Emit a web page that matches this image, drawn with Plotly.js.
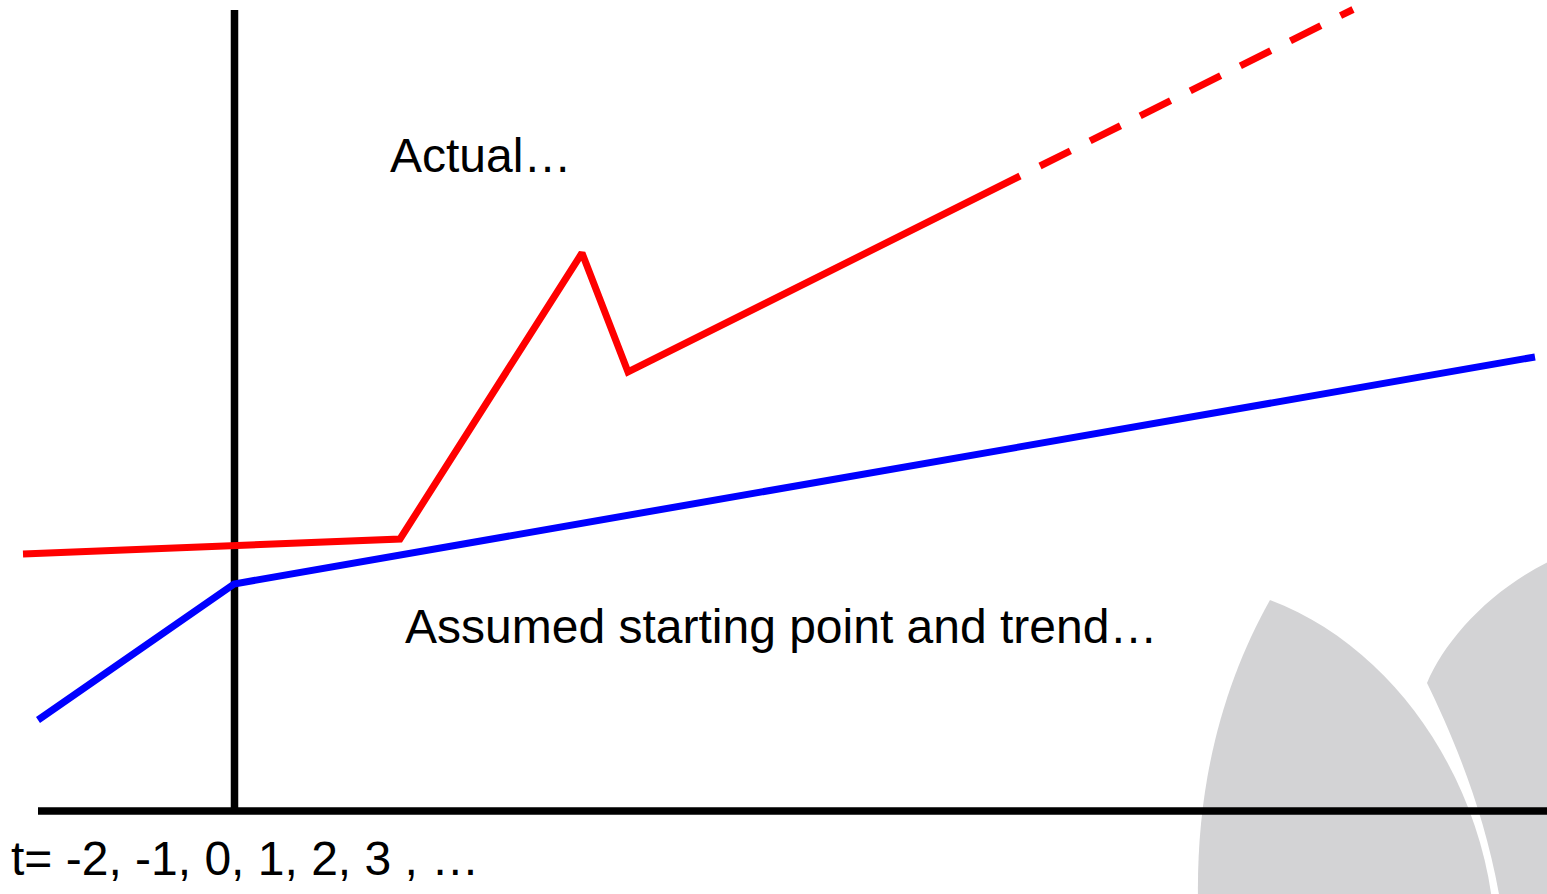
<!DOCTYPE html>
<html>
<head>
<meta charset="utf-8">
<script src="https://cdn.plot.ly/plotly-3.0.1.min.js"></script>
<style>
  html, body { margin: 0; padding: 0; background: #ffffff; }
  #chart { width: 1547px; height: 894px; }
</style>
</head>
<body>
<div id="chart"></div>
<script>
// Schematic values (arbitrary units; x grows right, y grows up)
const actualX = [23, 400, 582, 628, 1020];
const actualY = [340, 355, 641, 522, 718];
const projectedX = [1040, 1353];
const projectedY = [728, 884.5];
const trendX = [38, 234, 1535];
const trendY = [174, 310, 537];
const labelActual = "Actual…";
const labelTrend = "Assumed starting point and trend…";
const labelTime = "t= -2, -1, 0, 1, 2, 3 , …";

const W = 1547, H = 894;
const flip = y => H - y;
function pathFrom(cmds) {
  // cmds: array of [letter, x1, y1, x2, y2, ...] in top-down picture units
  return cmds.map(c => {
    const L = c[0];
    const pts = [];
    for (let i = 1; i < c.length; i += 2) pts.push(c[i] + ',' + flip(c[i + 1]));
    return L + ' ' + pts.join(' ');
  }).join(' ') + ' Z';
}

const grey = 'rgb(211,211,213)';
const leafLeft = pathFrom([
  ['M', 1270, 600],
  ['C', 1390, 645, 1475, 770, 1492, 900],
  ['L', 1198, 900],
  ['C', 1196, 780, 1225, 680, 1270, 600]
]);
const leafRight = pathFrom([
  ['M', 1427, 683],
  ['C', 1445, 640, 1490, 590, 1550, 561],
  ['L', 1550, 900],
  ['L', 1500, 900],
  ['C', 1485, 810, 1450, 730, 1427, 683]
]);

const traces = [
  { x: trendX, y: trendY, mode: 'lines', line: { color: '#0000ff', width: 7 }, hoverinfo: 'skip' },
  { x: actualX, y: actualY, mode: 'lines', line: { color: '#ff0000', width: 7 }, hoverinfo: 'skip' },
  { x: projectedX, y: projectedY, mode: 'lines', line: { color: '#ff0000', width: 7, dash: '34px,22px' }, hoverinfo: 'skip' }
];

const font = { family: 'Liberation Sans, Arial, sans-serif', size: 48, color: '#000000' };

const layout = {
  width: W, height: H,
  margin: { l: 0, r: 0, t: 0, b: 0 },
  paper_bgcolor: '#ffffff', plot_bgcolor: '#ffffff',
  showlegend: false,
  xaxis: { range: [0, W], visible: false, fixedrange: true },
  yaxis: { range: [0, H], visible: false, fixedrange: true },
  shapes: [
    { type: 'path', path: leafLeft, xref: 'x', yref: 'y', fillcolor: grey, line: { width: 0 }, layer: 'below' },
    { type: 'path', path: leafRight, xref: 'x', yref: 'y', fillcolor: grey, line: { width: 0 }, layer: 'below' },
    { type: 'line', xref: 'x', yref: 'y', x0: 234.5, x1: 234.5, y0: flip(811), y1: flip(10), line: { color: '#000000', width: 7.5 }, layer: 'below' },
    { type: 'line', xref: 'x', yref: 'y', x0: 38, x1: 1550, y0: flip(811), y1: flip(811), line: { color: '#000000', width: 7.5 }, layer: 'below' }
  ],
  annotations: [
    { text: labelActual, x: 388, y: flip(155), xref: 'x', yref: 'y', xanchor: 'left', yanchor: 'middle', showarrow: false, font: font },
    { text: labelTrend, x: 403, y: flip(626), xref: 'x', yref: 'y', xanchor: 'left', yanchor: 'middle', showarrow: false, font: font },
    { text: labelTime, x: 9, y: flip(858), xref: 'x', yref: 'y', xanchor: 'left', yanchor: 'middle', showarrow: false, font: font }
  ]
};

Plotly.newPlot('chart', traces, layout, { staticPlot: true, displayModeBar: false });
</script>
</body>
</html>
